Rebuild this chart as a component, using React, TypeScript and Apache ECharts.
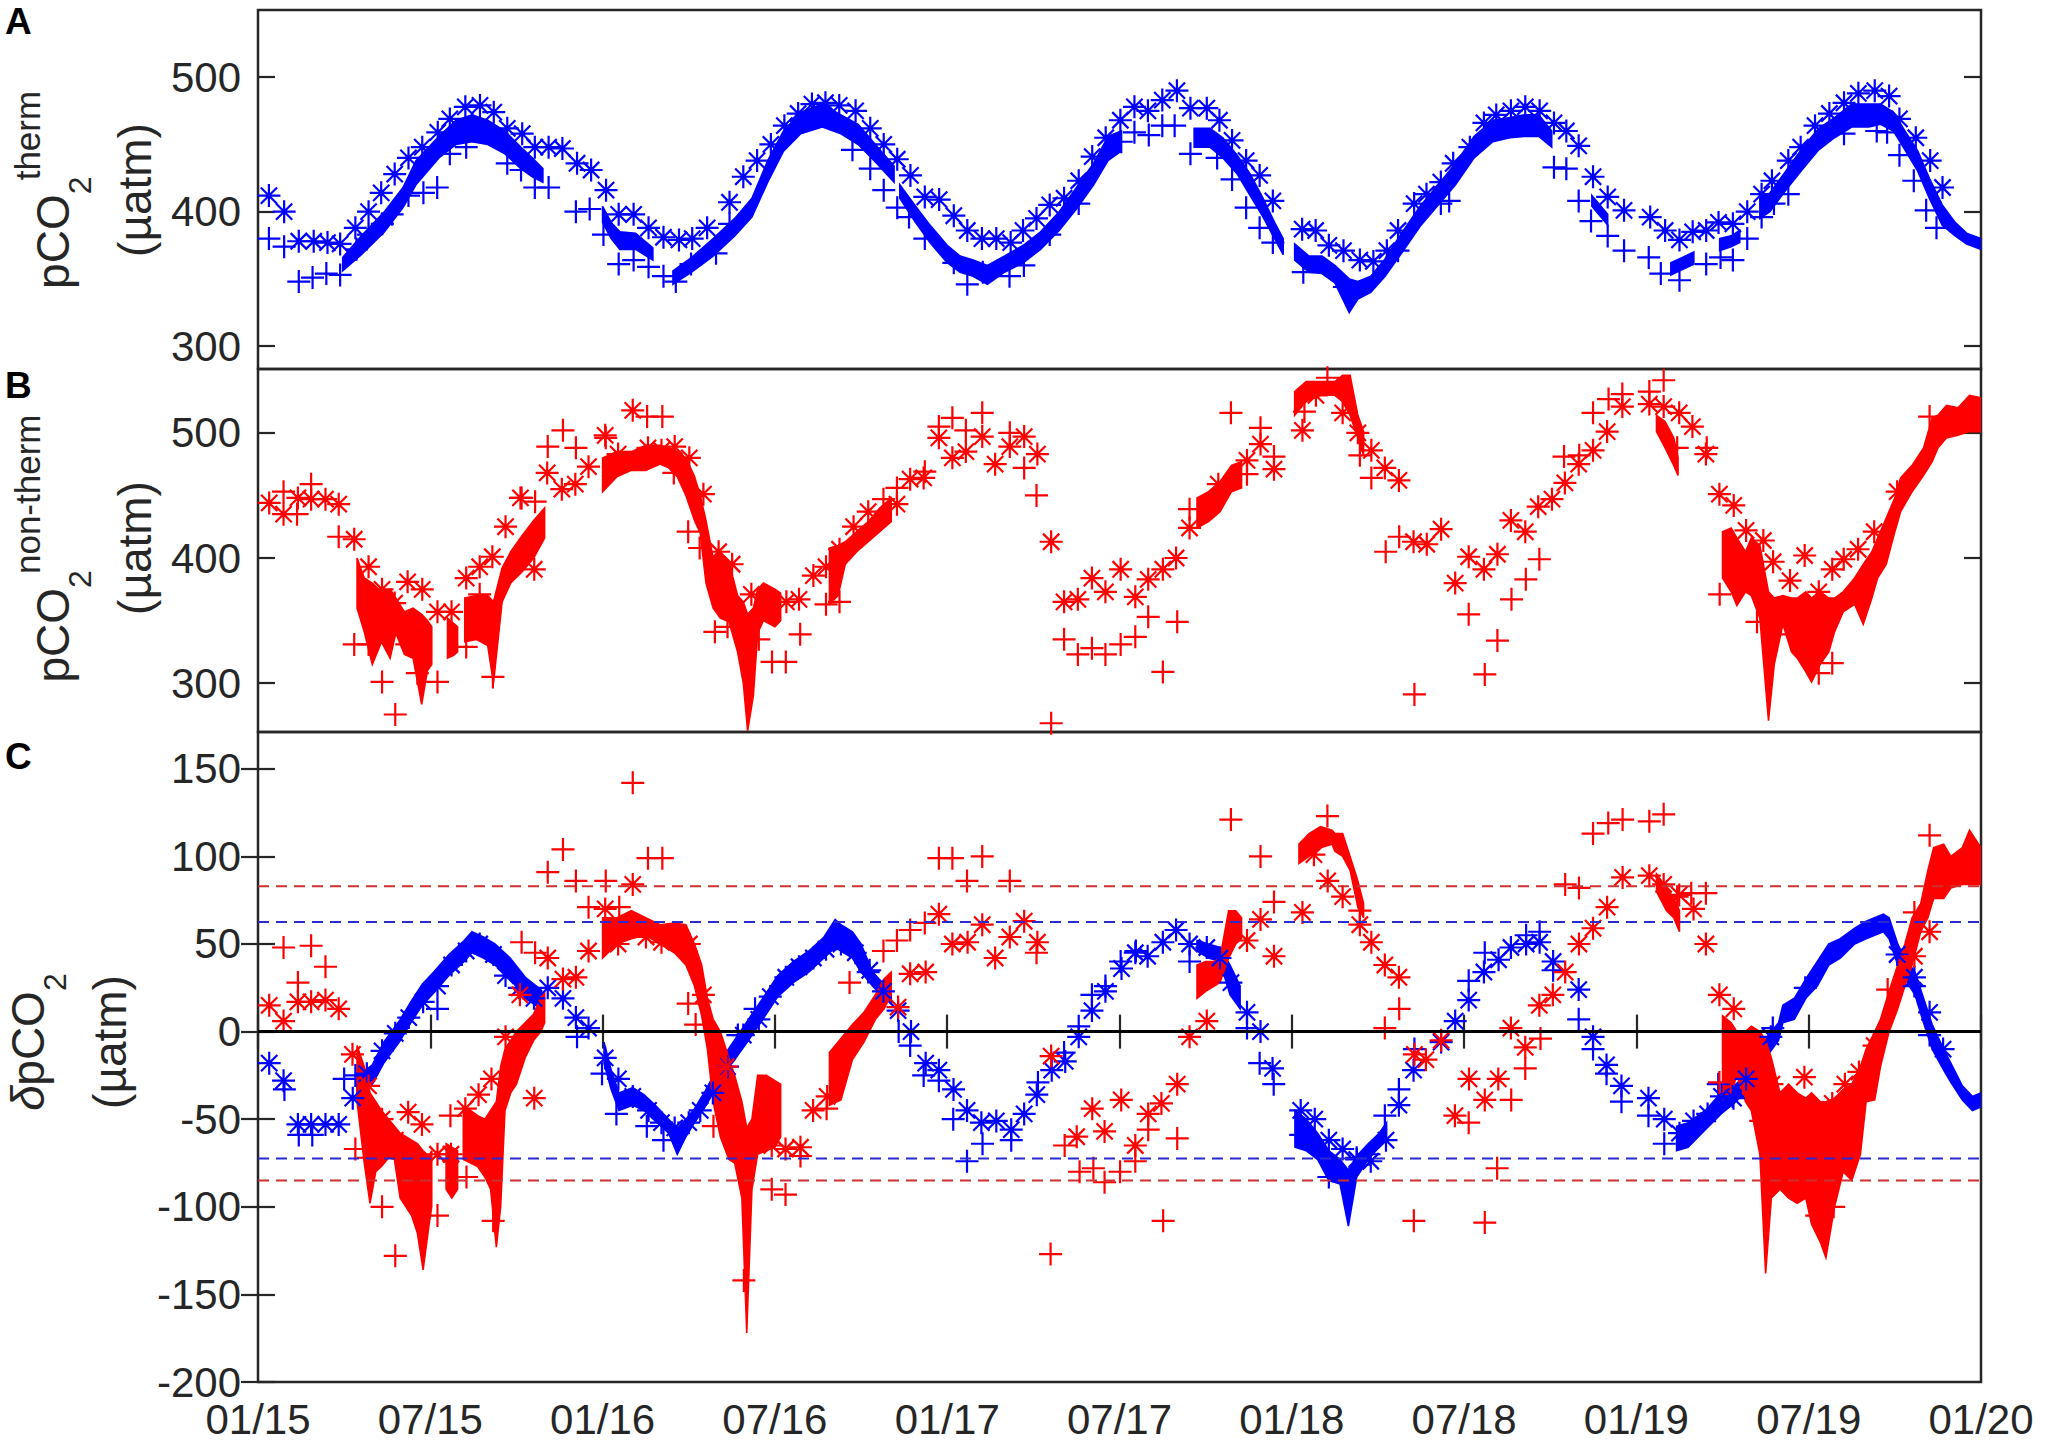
import React, { useEffect, useRef } from "react";
import * as echarts from "echarts";

// ---------- axes ----------
const xTickLabels = ["01/15", "07/15", "01/16", "07/16", "01/17", "07/17", "01/18", "07/18", "01/19", "07/19", "01/20"];
const aTicks = [300, 400, 500];
const bTicks = [300, 400, 500];
const cTicks = [-200, -150, -100, -50, 0, 50, 100, 150];

// ---------- Panel A : pCO2 therm (months since Jan 2015) ----------
// continuous record, segments of [month, low, high]
const aDense = [
  [[2.95,356,366],[3.6,368,382],[4.4,385,400],[5.05,403,418],[5.5,420,438],[6.3,440,456],[6.9,450,468],[7.45,452,472],[8.0,450,468],[8.6,443,460],[9.15,432,448],[9.55,426,440],[9.92,422,432]],
  [[12.0,392,404],[12.3,380,392],[12.6,372,385],[13.15,372,384],[13.75,364,373]],
  [[14.45,346,356],[15.1,355,366],[15.85,367,380],[16.6,382,395],[17.2,396,410],[17.75,422,438],[18.3,445,460],[18.9,458,474],[19.65,463,480],[20.3,458,472],[20.9,450,465],[21.5,437,450],[22.15,422,434]],
  [[22.35,410,420],[22.9,392,404],[23.4,377,390],[24.0,362,375],[24.45,355,367],[24.9,352,364],[25.4,346,360],[26.0,355,367],[26.65,362,375],[27.25,372,385],[27.9,386,400],[28.5,402,418],[29.1,420,436],[29.6,438,456],[30.06,445,460]],
  [[32.6,448,462],[33.15,448,462],[33.6,440,455],[34.1,428,442],[34.55,412,428],[35.0,396,410],[35.4,380,392],[35.7,368,380]],
  [[36.1,364,376],[36.6,355,367],[37.05,354,367],[37.5,347,360],[38.0,325,350],[38.3,335,348],[38.75,340,352],[39.25,352,365],[39.85,370,385],[40.5,390,405],[41.1,405,420],[41.7,420,436],[42.35,440,456],[43.0,452,468],[43.6,455,470],[44.1,456,472],[44.6,456,472],[45.05,448,460]],
  [[46.45,404,412],[47.0,390,398]],
  [[49.2,353,362],[49.6,357,366],[50.0,361,370]],
  [[50.9,371,380],[51.3,374,382],[51.6,377,386]],
  [[52.3,395,410],[52.65,400,414],[53.2,416,430],[53.8,432,448],[54.35,446,462],[54.9,455,470],[55.5,463,480],[56.1,463,480],[56.5,465,480],[56.95,460,474],[57.35,446,460],[57.8,430,445],[58.2,410,425],[58.65,390,405],[59.1,382,392],[59.5,376,384],[60.0,372,380]],
];
const aPlus = [[0.38,380],[0.91,374],[1.42,348],[1.9,351],[2.38,354],[2.86,353],[3.43,372],[3.85,383],[4.33,391],[4.67,398],[5.24,412],[5.76,414],[6.24,418],[6.68,443],[7.25,448],[8.68,436],[9.16,431],[9.64,418],[10.12,418],[11.07,400],[11.55,402],[12.03,383],[12.56,361],[13.08,364],[13.6,359],[14.12,352],[14.55,348],[15.08,361],[15.95,369],[16.42,391],[20.7,446],[21.32,432],[21.79,416],[22.26,403],[22.67,396],[23.22,380],[24.23,362],[24.7,346],[25.24,355],[26.17,352],[26.67,360],[27.57,383],[28.58,406],[30.06,452],[30.52,459],[31.02,457],[31.49,464],[31.92,464],[32.47,443],[33.4,440],[33.92,424],[34.41,403],[34.88,388],[35.34,377],[36.4,355],[37.83,344],[39.7,371],[41.19,406],[41.48,408],[45.13,433],[45.56,432],[45.99,408],[46.42,393],[47.0,382],[47.57,371],[48.43,366],[48.85,354],[49.5,349],[50.43,361],[50.93,366],[51.36,364],[51.86,380],[52.36,396],[52.79,406],[53.29,413],[55.23,458],[56.37,460],[56.73,459],[57.16,442],[57.66,423],[58.09,401],[58.45,388]];
const aStar = [[0.38,412],[0.91,400],[1.42,378],[1.94,378],[2.42,377],[2.86,376],[3.39,388],[3.85,400],[4.29,414],[4.76,428],[5.24,440],[5.72,448],[6.26,459],[6.68,469],[7.22,478],[7.73,479],[8.21,474],[8.68,462],[9.2,458],[9.64,448],[10.12,448],[10.6,447],[11.11,436],[11.6,431],[12.12,416],[12.56,398],[13.08,398],[13.6,388],[14.12,381],[14.66,379],[15.12,380],[15.64,388],[16.42,407],[16.9,426],[17.38,438],[17.86,450],[18.33,464],[18.81,473],[19.29,480],[19.76,481],[20.24,479],[20.81,475],[21.32,462],[21.79,450],[22.26,439],[22.72,427],[23.22,411],[23.72,409],[24.23,397],[24.7,386],[25.21,380],[25.71,380],[26.21,377],[26.64,386],[27.11,395],[27.57,405],[28.07,410],[28.58,423],[29.05,441],[29.52,455],[30.03,468],[30.52,478],[30.99,475],[31.49,483],[32.0,490],[32.47,477],[33.04,477],[33.48,468],[33.92,453],[34.41,438],[34.88,427],[35.34,408],[36.36,387],[36.83,386],[37.29,375],[37.8,371],[38.37,364],[38.84,363],[39.31,371],[39.7,386],[40.26,406],[40.69,413],[41.19,422],[41.62,436],[42.2,448],[42.69,466],[43.12,472],[43.63,475],[44.13,478],[44.63,475],[45.13,466],[45.56,460],[45.99,449],[46.49,426],[47.0,411],[47.57,401],[48.48,396],[49.0,386],[49.5,379],[49.96,385],[50.43,386],[50.86,392],[51.36,391],[51.86,400],[52.36,413],[52.72,423],[53.29,438],[53.72,448],[54.22,464],[54.72,473],[55.23,481],[55.73,488],[56.3,490],[56.8,486],[57.16,469],[57.73,455],[58.23,438],[58.66,418]];

// ---------- Panel B : pCO2 non-therm ----------
const bDense = [
  [[3.45,360,400],[3.7,341,384],[3.98,315,380],[4.3,333,373],[4.6,320,375],[4.8,340,368],[5.1,323,357],[5.4,320,360],[5.7,283,355],[5.9,310,350],[6.05,315,345]],
  [[6.6,320,352],[6.8,322,348],[6.95,325,345]],
  [[7.2,333,368],[7.6,335,370],[8.0,330,370],[8.2,300,365],[8.5,365,392],[8.8,380,405],[9.2,389,418],[9.6,400,430],[9.98,416,440]],
  [[12.0,453,480],[12.5,465,485],[13.0,470,485],[13.5,470,490],[14.0,475,490],[14.3,472,488],[14.6,465,485],[14.9,450,480],[15.2,430,465],[15.4,420,450],[15.6,380,430],[15.85,360,400],[16.1,352,405],[16.4,349,397],[16.7,325,370],[16.9,300,365],[17.05,262,355],[17.25,290,360],[17.4,340,375],[17.6,350,380],[18.0,345,375],[18.2,350,372]],
  [[19.9,363,408],[20.2,370,410],[20.45,395,413],[20.85,405,421],[21.25,413,429],[21.65,421,440],[22.05,429,448]],
  [[32.7,424,448],[33.1,429,453],[33.5,437,461],[33.9,453,474],[34.25,456,477]],
  [[36.1,514,533],[36.5,525,541],[37.0,530,541],[37.5,530,541],[37.77,525,546],[38.03,514,546],[38.3,496,514],[38.5,482,501]],
  [[48.7,501,514],[49.0,488,509],[49.3,474,496],[49.45,466,480]],
  [[51.0,384,421],[51.3,373,424],[51.5,362,416],[51.8,373,405],[52.0,370,416],[52.3,352,410],[52.6,270,373],[52.8,315,368],[53.1,347,370],[53.4,325,368],[53.6,320,368],[53.9,309,373],[54.1,301,368],[54.4,315,373],[54.7,325,368],[54.9,341,368],[55.2,357,373],[55.6,363,384],[55.9,347,395],[56.2,368,405],[56.4,384,416],[56.7,395,432],[57.0,421,448],[57.2,437,464],[57.6,453,474],[58.0,466,488],[58.3,477,512],[58.5,488,514],[58.8,496,522],[59.2,498,520],[59.6,501,530],[60.0,501,528]],
];
const bPlus = [[0.89,453],[1.36,435],[1.85,459],[2.81,417],[3.35,331],[3.85,331],[4.32,301],[4.78,275],[5.18,331],[5.55,308],[6.25,301],[7.25,329],[7.72,371],[8.18,305],[9.18,448],[9.65,445],[10.09,489],[10.62,502],[11.07,488],[12.11,496],[13.55,513],[14.08,513],[14.48,468],[14.98,421],[15.38,408],[15.91,341],[16.35,345],[17.44,335],[17.9,317],[18.38,317],[18.88,339],[19.78,363],[20.25,365],[21.78,447],[22.25,456],[23.22,469],[23.71,505],[24.18,512],[24.65,502],[25.22,516],[26.18,500],[26.68,472],[27.11,450],[27.62,268],[28.07,335],[28.55,323],[29.04,328],[29.51,323],[30.04,331],[30.55,337],[31.0,353],[31.51,309],[32.01,349],[32.44,439],[33.88,516],[34.44,467],[34.91,504],[35.38,481],[36.44,517],[37.24,544],[38.37,482],[38.77,464],[39.27,405],[39.74,417],[40.27,291],[42.16,355],[42.72,307],[43.16,334],[43.65,367],[44.15,383],[44.62,399],[45.48,481],[46.01,482],[46.49,516],[47.03,527],[47.51,531],[48.45,533],[48.95,542],[49.42,488],[50.45,488],[50.9,371],[52.2,349],[52.89,339],[54.35,308],[54.82,316],[58.21,513]];
const bStar = [[0.39,444],[0.89,435],[1.39,448],[1.85,447],[2.35,447],[2.81,443],[3.35,415],[3.85,393],[4.32,375],[4.76,364],[5.21,381],[5.72,375],[6.25,357],[6.74,357],[7.25,384],[7.72,393],[8.16,401],[8.62,425],[9.14,448],[9.62,391],[10.07,468],[10.58,455],[11.05,459],[11.51,473],[12.09,498],[12.54,483],[13.05,518],[13.58,488],[14.05,486],[14.51,489],[15.02,480],[15.51,451],[16.04,405],[16.51,395],[17.18,371],[18.4,365],[18.84,367],[19.34,386],[19.78,393],[20.25,407],[20.74,425],[21.25,437],[22.25,443],[22.71,463],[23.18,464],[23.71,496],[24.18,480],[24.65,485],[25.22,497],[25.67,475],[26.18,489],[26.68,497],[27.14,483],[27.62,413],[28.07,365],[28.55,367],[29.04,384],[29.51,373],[30.04,391],[30.55,369],[31.0,383],[31.51,391],[31.97,400],[32.44,424],[33.44,459],[34.44,478],[34.91,491],[35.38,471],[36.37,502],[36.84,530],[37.77,516],[38.3,500],[38.77,486],[39.24,472],[39.73,462],[40.24,413],[40.7,411],[41.2,423],[41.69,380],[42.16,401],[42.69,391],[43.16,403],[43.63,430],[44.13,421],[44.58,441],[45.06,447],[45.51,460],[45.99,475],[46.49,486],[46.98,501],[47.51,521],[48.45,523],[48.95,521],[49.49,516],[49.95,505],[50.42,483],[50.89,451],[51.39,442],[51.82,422],[52.42,414],[52.76,397],[53.35,382],[53.86,402],[54.35,373],[54.82,391],[55.22,399],[55.72,407],[56.28,421],[57.08,453]];

// ---------- Panel C : delta pCO2 ----------
const cThermDense = [
  [[3.45,-37,-26],[3.98,-30,-19],[4.38,-18,-6],[4.92,-6,6],[5.32,5,17],[5.72,15,27],[6.12,22,34],[6.65,32,44],[7.18,40,52],[7.45,45,57],[7.85,42,54],[8.25,38,50],[8.78,30,42],[9.31,19,31],[9.85,13,24]],
  [[12.05,-18,-6],[12.3,-33,-22],[12.57,-45,-35],[13.05,-42,-32],[13.44,-45,-36],[13.83,-51,-42],[14.3,-58,-50],[14.6,-70,-55],[14.9,-60,-50],[15.2,-52,-44],[15.57,-43,-34],[15.96,-32,-22],[16.38,-21,-10],[17.04,-6,6],[17.58,7,19],[18.1,20,32],[18.64,28,40],[19.18,34,46],[19.71,42,54],[20.1,48,64],[20.3,46,61],[20.7,42,57],[21.0,34,50],[21.4,26,34],[21.8,19,27],[22.05,16,23]],
  [[32.7,46,52],[33.1,42,50],[33.5,40,48],[33.85,21,38],[34.2,13,26]],
  [[36.11,-66,-45],[36.5,-68,-50],[36.9,-73,-58],[37.29,-85,-68],[37.68,-87,-73],[37.97,-111,-79],[38.26,-83,-71],[38.66,-73,-64],[39.04,-66,-58],[39.3,-62,-52]],
  [[49.4,-68,-54],[49.8,-66,-52],[50.4,-56,-45],[50.95,-47,-35],[51.4,-41,-31],[52.0,-31,-22],[52.55,-14,-3],[52.95,-5,5],[53.1,5,15],[53.5,7,19],[53.9,19,30],[54.3,26,40],[54.7,38,50],[55.1,42,53],[55.6,50,59],[56.0,53,63],[56.6,57,67],[56.8,53,65],[57.1,38,50],[57.35,30,42],[57.7,21,34],[58.0,5,19],[58.3,-10,4],[58.7,-22,-10],[58.95,-29,-18],[59.35,-39,-31],[59.7,-45,-37],[60.0,-43,-35]],
];
const cNonThermDense = [
  [[3.45,-40,-8],[3.7,-75,-20],[3.9,-98,-35],[4.1,-80,-40],[4.3,-77,-45],[4.55,-72,-50],[4.75,-73,-54],[4.95,-95,-58],[5.15,-100,-60],[5.35,-105,-62],[5.55,-115,-64],[5.75,-136,-68],[5.95,-111,-71],[6.05,-100,-68]],
  [[6.55,-90,-64],[6.75,-95,-66],[6.95,-90,-68]],
  [[7.15,-73,-43],[7.4,-75,-45],[7.65,-77,-48],[7.9,-83,-50],[8.1,-90,-45],[8.3,-123,-40],[8.45,-100,-20],[8.6,-45,-10],[8.8,-35,-5],[9.0,-30,0],[9.3,-15,5],[9.6,-5,10],[9.85,0,20],[9.98,5,22]],
  [[12.0,42,65],[12.5,50,65],[13.0,53,69],[13.5,55,65],[14.0,50,61],[14.5,45,62],[14.9,38,61],[15.2,26,50],[15.45,9,38],[15.65,-10,19],[15.85,-40,7],[16.1,-60,0],[16.4,-73,-15],[16.6,-75,-25],[16.85,-95,-40],[17.02,-172,-55],[17.2,-90,-50],[17.4,-70,-25],[17.7,-68,-25],[18.0,-66,-28],[18.2,-60,-30]],
  [[19.9,-42,-12],[20.3,-39,-4],[20.7,-16,4],[21.1,-6,11],[21.5,7,21],[21.8,13,30],[22.05,21,34]],
  [[32.7,19,38],[33.0,23,40],[33.3,26,40],[33.5,28,42],[33.8,42,69],[34.05,50,69],[34.25,53,65]],
  [[36.25,96,107],[36.6,100,113],[37.0,105,117],[37.4,107,115],[37.5,103,113],[37.77,100,113],[38.03,92,100],[38.3,71,86],[38.5,65,73]],
  [[48.7,80,90],[49.05,69,82],[49.3,65,76],[49.5,57,69]],
  [[51.0,-39,9],[51.3,-35,5],[51.5,-25,0],[51.8,-40,0],[52.0,-45,3],[52.3,-70,0],[52.5,-138,-5],[52.7,-95,-15],[53.0,-90,-35],[53.3,-95,-30],[53.6,-98,-35],[53.9,-95,-38],[54.1,-110,-35],[54.4,-120,-40],[54.6,-129,-40],[54.9,-100,-38],[55.2,-80,-33],[55.5,-85,-30],[55.8,-70,-20],[56.0,-40,-10],[56.3,-39,0],[56.5,-20,7],[56.8,0,23],[57.1,13,38],[57.35,26,50],[57.6,38,65],[57.9,57,73],[58.15,65,92],[58.35,76,105],[58.7,76,107],[58.95,82,100],[59.35,84,105],[59.6,84,115],[60.0,84,105]],
];
const cThermPlus = [[0.92,-33],[1.42,-59],[1.89,-59],[3.0,-27],[3.39,-25],[6.25,13],[11.11,-3],[11.98,-24],[12.48,-47],[13.54,-54],[14.12,-62],[16.71,-2],[17.31,13],[21.25,34],[22.31,0],[22.71,-8],[23.18,-25],[23.71,-28],[24.21,-50],[24.69,-74],[25.23,-64],[26.23,-62],[27.16,-29],[28.07,-12],[28.58,3],[29.04,21],[29.51,26],[30.04,40],[30.57,46],[32.44,40],[34.44,2],[34.88,-18],[35.37,-30],[36.31,-59],[37.29,-83],[38.26,-72],[38.69,-70],[39.24,-48],[39.73,-33],[40.27,-10],[42.16,29],[42.72,45],[44.16,55],[44.63,57],[45.1,35],[45.99,7],[46.49,-10],[46.96,-24],[47.48,-40],[48.42,-48],[48.97,-64],[50.85,-30],[51.35,-37],[52.75,2],[53.88,25],[57.68,26],[58.21,-2]];
const cThermStar = [[0.39,-18],[0.89,-28],[1.39,-53],[1.85,-53],[2.35,-53],[2.81,-53],[3.3,-38],[3.79,-24],[4.32,-11],[4.78,-1],[5.25,8],[5.75,17],[6.25,26],[6.74,38],[7.25,46],[7.72,50],[8.2,44],[8.62,32],[9.1,25],[9.61,19],[10.09,25],[10.62,19],[11.07,8],[11.51,2],[12.09,-15],[12.55,-27],[13.05,-37],[13.6,-45],[14.05,-52],[14.51,-55],[15.0,-52],[15.4,-45],[15.84,-35],[16.35,-20],[16.9,-2],[17.44,7],[17.84,20],[18.38,31],[18.84,37],[19.34,42],[19.78,47],[20.3,50],[20.8,45],[21.3,35],[21.78,23],[22.29,12],[22.74,0],[23.25,-18],[23.71,-22],[24.22,-33],[24.69,-45],[25.19,-52],[25.71,-51],[26.23,-56],[26.68,-47],[27.12,-36],[27.64,-22],[28.11,-17],[28.58,-3],[29.04,12],[29.51,23],[30.07,36],[30.55,45],[30.98,43],[31.51,51],[31.97,58],[32.44,50],[33.04,48],[33.5,42],[33.88,28],[34.44,11],[34.91,0],[35.33,-21],[36.31,-45],[36.8,-50],[37.29,-62],[37.77,-67],[38.26,-73],[38.75,-74],[39.28,-62],[39.73,-42],[40.24,-22],[41.2,-6],[41.69,6],[42.16,18],[42.69,34],[43.2,41],[43.63,48],[44.16,50],[44.63,51],[45.1,40],[45.99,24],[46.49,-3],[46.96,-19],[47.48,-31],[48.42,-38],[48.97,-50],[49.5,-58],[49.99,-51],[50.48,-47],[50.96,-37],[51.38,-38],[51.82,-27],[52.68,-3],[57.08,44],[57.68,31],[58.21,11],[58.68,-10]];
const cNonThermPlus = [[0.89,48],[1.39,28],[1.85,49],[2.35,37],[3.39,-67],[3.85,-72],[4.32,-100],[4.78,-128],[5.18,-72],[5.55,-95],[6.25,-105],[6.7,-48],[7.26,-83],[8.19,-108],[9.18,51],[9.65,45],[10.09,91],[10.62,104],[11.07,86],[11.51,71],[12.11,86],[12.58,71],[13.05,142],[13.58,99],[14.08,99],[14.48,55],[14.98,16],[15.24,4],[15.86,-54],[16.92,-142],[17.89,-90],[18.37,-93],[18.89,-71],[19.8,-44],[20.6,28],[21.78,46],[22.25,52],[22.71,58],[23.22,62],[23.71,99],[24.18,99],[24.69,86],[25.22,100],[26.18,86],[27.11,45],[27.6,-127],[28.09,-65],[28.61,-80],[29.09,-78],[29.48,-86],[30.02,-80],[30.55,-74],[31.0,-56],[31.52,-108],[32.01,-61],[33.88,121],[34.91,100],[35.38,74],[37.24,123],[38.37,69],[39.24,2],[39.74,13],[40.25,-108],[42.16,-52],[42.72,-109],[43.15,-78],[43.64,-39],[44.13,-21],[44.66,-4],[45.52,84],[46.0,82],[46.49,113],[47.02,119],[47.52,121],[48.45,120],[48.95,124],[49.42,77],[49.91,79],[50.42,79],[50.89,-29],[52.33,-51],[54.28,-105],[54.87,-100],[56.75,24],[57.68,68],[58.21,112]];
const cNonThermStar = [[0.39,15],[0.89,6],[1.39,17],[1.85,17],[2.35,18],[2.81,13],[3.29,-13],[3.85,-31],[4.32,-50],[4.78,-62],[5.23,-46],[5.71,-53],[6.25,-70],[6.72,-70],[7.22,-44],[7.68,-36],[8.13,-27],[8.62,-3],[9.12,21],[9.62,-38],[10.09,42],[10.62,30],[11.07,31],[11.51,46],[12.09,70],[12.54,50],[13.05,84],[13.51,54],[14.05,51],[14.51,55],[15.02,50],[15.51,21],[16.31,-20],[17.89,-65],[18.37,-67],[18.89,-66],[19.33,-45],[19.82,-37],[22.29,14],[22.71,33],[23.25,34],[23.71,67],[24.18,50],[24.71,51],[25.22,61],[25.67,42],[26.18,54],[26.68,63],[27.14,51],[27.62,-14],[28.51,-60],[29.05,-44],[29.48,-57],[30.06,-39],[30.55,-65],[31.0,-47],[31.46,-41],[32.01,-30],[32.44,-3],[33.04,6],[34.44,52],[34.91,64],[35.38,43],[36.37,68],[36.77,101],[37.25,86],[37.77,77],[38.37,61],[38.77,51],[39.24,38],[39.73,31],[40.27,-13],[40.67,-16],[41.2,-5],[41.68,-48],[42.17,-27],[42.72,-39],[43.19,-27],[43.63,2],[44.13,-9],[44.62,15],[45.09,21],[45.52,34],[46.0,50],[46.49,59],[46.98,71],[47.52,88],[48.45,89],[48.95,84],[49.49,78],[49.99,70],[50.42,50],[50.89,21],[51.39,13],[52.72,-30],[53.85,-26],[54.82,-41],[55.26,-30],[55.75,-23],[56.28,-8],[57.68,43],[58.21,57]];
// threshold lines (upper, lower)
const thermLimits = [62.5, -72.5];
const nonThermLimits = [83, -85];
const xRange = [0, 60];

// ---------- styling ----------
const BLUE = "#0000ff";
const RED = "#ff0000";
const AXIS = "#262626";
const FONT = "'Liberation Sans', Arial, Helvetica, sans-serif";
const PLUS_PATH = "path://M10 0L10 20M0 10L20 10";
const STAR_PATH = "path://M10 0L10 20M0 10L20 10M2.93 2.93L17.07 17.07M2.93 17.07L17.07 2.93";

function band(segs: number[][][], color: string, xi: number, yi: number) {
  return {
    type: "custom",
    xAxisIndex: xi,
    yAxisIndex: yi,
    silent: true,
    clip: true,
    data: segs.map((s, i) => [s[0][0], s[0][1], i]),
    renderItem: (params: any, api: any) => {
      const seg = segs[params.dataIndex];
      const top = seg.map((p) => api.coord([p[0], p[2]]));
      const bot = seg.map((p) => api.coord([p[0], p[1]])).reverse();
      return {
        type: "polygon",
        shape: { points: top.concat(bot) },
        style: { fill: color, stroke: color, lineWidth: 1.6 },
      };
    },
  };
}

function marks(data: number[][], path: string, color: string, xi: number, yi: number) {
  return {
    type: "scatter",
    xAxisIndex: xi,
    yAxisIndex: yi,
    silent: true,
    data,
    symbol: path,
    symbolSize: 23,
    symbolKeepAspect: true,
    itemStyle: { color: "rgba(0,0,0,0)", borderColor: color, borderWidth: 2.2, opacity: 1 },
  };
}

function hline(v: number, color: string, dashed: boolean, width: number, xi: number, yi: number) {
  return {
    type: "line",
    xAxisIndex: xi,
    yAxisIndex: yi,
    silent: true,
    symbol: "none",
    data: [[xRange[0], v], [xRange[1], v]],
    lineStyle: { color, width, type: dashed ? [11, 7] : "solid" },
  };
}

function yAx(gi: number, min: number, max: number, ticks: number[], right: boolean) {
  return {
    type: "value",
    gridIndex: gi,
    position: right ? "right" : "left",
    min,
    max,
    axisLine: { show: false },
    splitLine: { show: false },
    axisTick: { show: true, inside: true, length: 17, customValues: ticks, lineStyle: { color: AXIS, width: 2.2 } },
    axisLabel: {
      show: !right,
      customValues: ticks,
      margin: 17,
      fontSize: 42,
      fontFamily: FONT,
      color: AXIS,
    },
  };
}

function xAx(gi: number, show: boolean, pos: string, labels: boolean) {
  return {
    type: "value",
    gridIndex: gi,
    position: pos,
    min: xRange[0],
    max: xRange[1],
    interval: 6,
    show,
    axisLine: { show: false },
    splitLine: { show: false },
    axisTick: { show: true, inside: true, length: 17, lineStyle: { color: AXIS, width: 2.2 } },
    axisLabel: {
      show: labels,
      margin: 16,
      fontSize: 42,
      fontFamily: FONT,
      color: AXIS,
      formatter: (v: number) => xTickLabels[Math.round(v / 6)] ?? "",
    },
  };
}

function txt(x: number, y: number, text: string, size: number, align: string, extra: any = {}) {
  return {
    type: "text",
    x,
    y,
    silent: true,
    style: {
      text,
      fontSize: size,
      fontFamily: FONT,
      fill: AXIS,
      align,
      textAlign: align,
      verticalAlign: "middle",
      textVerticalAlign: "middle",
      ...extra,
    },
  };
}

function ylabel(gx: number, gy: number, prefixDelta: boolean, sup: string) {
  const main = 46, sub = 32, supS = 35;
  const pcoW = 2.056 * main;
  const deltaW = prefixDelta ? 25 : 0;
  const supW = sup ? sup.length * 0.51 * supS : 0;
  const total = prefixDelta ? deltaW + pcoW + 0.556 * sub : pcoW + 14 + supW;
  const start = -total / 2;
  const children: any[] = [];
  if (prefixDelta) children.push(txt(start, -16, "δ", main, "left", { fontStyle: "italic" }));
  children.push(txt(start + deltaW, -16, "pCO", main, "left"));
  children.push(txt(start + deltaW + pcoW, 22 - 11, "2", sub, "left"));
  if (sup) children.push(txt(start + deltaW + pcoW + 14, -30 - 12, sup, supS, "left"));
  children.push(txt(0, 66, "(µatm)", main, "center"));
  return { type: "group", x: gx, y: gy, rotation: Math.PI / 2, children };
}

export default function App() {
  const ref = useRef<HTMLDivElement>(null);
  useEffect(() => {
    if (!ref.current) return;
    const chart = echarts.init(ref.current, undefined, { renderer: "svg" });
    const gridBase = { left: 258, right: 64, show: true, borderColor: AXIS, borderWidth: 2.5, backgroundColor: "transparent" };
    const option: any = {
      animation: false,
      backgroundColor: "#ffffff",
      grid: [
        { ...gridBase, top: 10, height: 359 },
        { ...gridBase, top: 369, height: 363 },
        { ...gridBase, top: 732, height: 650 },
      ],
      xAxis: [
        xAx(0, false, "bottom", false),
        xAx(1, false, "bottom", false),
        xAx(2, true, "bottom", true),
        xAx(2, true, "top", false),
      ],
      yAxis: [
        yAx(0, 283, 550, aTicks, false),
        yAx(0, 283, 550, aTicks, true),
        yAx(1, 261, 551, bTicks, false),
        yAx(1, 261, 551, bTicks, true),
        yAx(2, -200, 171, cTicks, false),
        yAx(2, -200, 171, cTicks, true),
      ],
      series: [
        band(aDense, BLUE, 0, 0),
        marks(aPlus, PLUS_PATH, BLUE, 0, 0),
        marks(aStar, STAR_PATH, BLUE, 0, 0),
        band(bDense, RED, 1, 2),
        marks(bPlus, PLUS_PATH, RED, 1, 2),
        marks(bStar, STAR_PATH, RED, 1, 2),
        band(cThermDense, BLUE, 2, 4),
        band(cNonThermDense, RED, 2, 4),
        marks(cThermPlus, PLUS_PATH, BLUE, 2, 4),
        marks(cThermStar, STAR_PATH, BLUE, 2, 4),
        marks(cNonThermPlus, PLUS_PATH, RED, 2, 4),
        marks(cNonThermStar, STAR_PATH, RED, 2, 4),
        hline(0, "#000000", false, 3, 2, 4),
        hline(thermLimits[0], "#2a2ad0", true, 2, 2, 4),
        hline(thermLimits[1], "#2a2ad0", true, 2, 2, 4),
        hline(nonThermLimits[0], "#cc3030", true, 2, 2, 4),
        hline(nonThermLimits[1], "#cc3030", true, 2, 2, 4),
      ],
      graphic: [
        { type: "text", left: 5, top: 3, silent: true, style: { text: "A", fontSize: 37, fontWeight: "bold", fontFamily: FONT, fill: "#000" } },
        { type: "text", left: 5, top: 367, silent: true, style: { text: "B", fontSize: 37, fontWeight: "bold", fontFamily: FONT, fill: "#000" } },
        { type: "text", left: 5, top: 738, silent: true, style: { text: "C", fontSize: 37, fontWeight: "bold", fontFamily: FONT, fill: "#000" } },
        ylabel(69, 190, false, "therm"),
        ylabel(69, 548, false, "non-therm"),
        ylabel(44, 1042, true, ""),
      ],
    };
    chart.setOption(option);
    return () => chart.dispose();
  }, []);
  return (
    <div
      ref={ref}
      style={{ position: "absolute", left: 0, top: 0, width: 2045, height: 1453, background: "#fff" }}
    />
  );
}
